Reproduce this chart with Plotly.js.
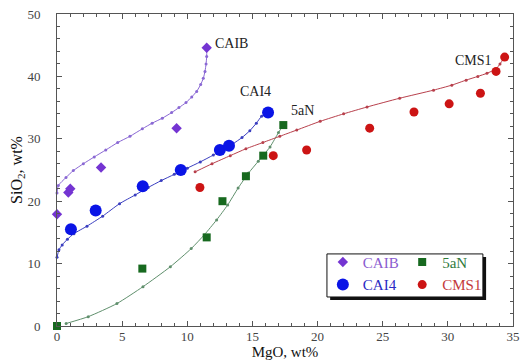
<!DOCTYPE html>
<html>
<head>
<meta charset="utf-8">
<script src="https://cdn.plot.ly/plotly-3.0.1.min.js"></script>
<style>html,body{margin:0;padding:0;background:#fff;}#chart{width:521px;height:360px;}</style>
</head>
<body>
<div id="chart"></div>
<script>
// Measured points
const caibX = [0, 0.87, 1.02, 3.38, 9.18, 11.49];
const caibY = [17.9, 21.4, 22.0, 25.4, 31.7, 44.6];
const cai4X = [1.07, 2.97, 6.58, 9.5, 12.5, 13.2, 16.2];
const cai4Y = [15.5, 18.5, 22.4, 25.0, 28.2, 28.9, 34.2];
const n5aNX = [0, 6.55, 11.49, 12.7, 14.5, 15.83, 17.37];
const n5aNY = [0, 9.2, 14.2, 20.0, 24.0, 27.3, 32.2];
const cms1X = [10.97, 16.6, 19.16, 24.0, 27.4, 30.1, 32.5, 33.7, 34.36];
const cms1Y = [22.2, 27.3, 28.2, 31.7, 34.3, 35.6, 37.3, 40.8, 43.1];

// Fitted curves
const caibCurveX = [0, 0.1, 0.69, 1.25, 2.02, 2.86, 3.74, 4.66, 5.6, 6.55, 7.3, 8.08, 8.8, 9.36, 9.9, 10.34, 10.72, 11.03, 11.23, 11.36, 11.44, 11.49, 11.49];
const caibCurveY = [21.3, 22.5, 23.8, 24.9, 26.0, 27.1, 28.2, 29.4, 30.4, 31.6, 32.5, 33.3, 34.2, 35.0, 35.8, 36.7, 37.6, 38.7, 39.7, 40.8, 42.0, 43.2, 44.6];
const cai4CurveX = [0, 0.15, 0.4, 0.8, 1.3, 2.3, 3.5, 4.8, 6.0, 7.0, 8.0, 9.0, 10.0, 11.0, 12.0, 12.8, 13.5, 14.2, 14.8, 15.3, 15.7, 16.2];
const cai4CurveY = [11.0, 12.2, 13.0, 13.9, 14.8, 16.0, 17.6, 19.6, 21.0, 22.2, 23.3, 24.3, 25.3, 26.3, 27.4, 28.4, 29.2, 30.2, 31.3, 32.5, 33.6, 34.2];
const n5aNCurveX = [0.7, 2.4, 4.6, 6.6, 8.7, 10.3, 11.3, 12.25, 13.1, 13.9, 14.7, 15.45, 16.35, 17.0, 17.37];
const n5aNCurveY = [0.4, 1.5, 3.6, 6.3, 9.5, 12.4, 14.6, 17.0, 19.4, 22.1, 24.5, 26.4, 28.7, 31.0, 32.2];
const cms1CurveX = [10.6, 11.9, 13.3, 14.5, 15.8, 17.1, 18.4, 20.2, 22.0, 23.8, 26.3, 28.9, 30.3, 31.4, 32.3, 33.0, 33.7, 34.0, 34.36];
const cms1CurveY = [24.7, 26.0, 27.3, 28.4, 29.4, 30.4, 31.4, 32.8, 34.0, 35.1, 36.5, 37.8, 38.6, 39.4, 40.0, 40.5, 41.2, 42.0, 43.1];

const labelText = ['CAIB', 'CAI4', '5aN', 'CMS1'];
const labelX = [12.0, 13.9, 17.8, 30.4];
const labelY = [45.3, 37.6, 34.6, 42.6];

const serif = 'Liberation Serif, Times New Roman, serif';

function curve(x, y, color) {
  return {x: x, y: y, type: 'scatter', mode: 'lines+markers', showlegend: false,
    line: {color: color, width: 1, shape: 'spline', smoothing: 0.6},
    marker: {size: 3, color: color}, hoverinfo: 'skip', cliponaxis: false};
}
function pts(x, y, name, symbol, size, color, legend) {
  return {x: x, y: y, type: 'scatter', mode: 'markers', name: name, legend: legend,
    marker: {symbol: symbol, size: size, color: color}, cliponaxis: false};
}

const traces = [
  curve(caibCurveX, caibCurveY, '#8a68d4'),
  curve(cai4CurveX, cai4CurveY, '#3a3ec0'),
  curve(n5aNCurveX, n5aNCurveY, '#5f8f6c'),
  curve(cms1CurveX, cms1CurveY, '#b8404c'),
  pts(caibX, caibY, '<span style="color:#8a5cd0">CAIB</span>', 'diamond', 8, '#7434d2', 'legend'),
  pts(cai4X, cai4Y, '<span style="color:#2a2ac4">CAI4</span>', 'circle', 12, '#0a14e6', 'legend'),
  pts(n5aNX, n5aNY, '<span style="color:#2f7a3c">5aN</span>', 'square', 8, '#17691f', 'legend2'),
  pts(cms1X, cms1Y, '<span style="color:#c43a3a">CMS1</span>', 'circle', 9, '#cc1414', 'legend2')
];

const annotations = labelText.map((t, i) => ({
  x: labelX[i], y: labelY[i], xref: 'x', yref: 'y', text: t, showarrow: false,
  xanchor: 'left', yanchor: 'middle', font: {family: serif, size: 14, color: '#222'}
}));

const axisCommon = {
  showgrid: false, zeroline: false, showline: true, linecolor: '#555', linewidth: 1,
  mirror: 'ticks', ticks: 'inside', ticklen: 5, tickcolor: '#555', tickwidth: 1,
  tickfont: {family: serif, size: 13, color: '#444'}
};

const layout = {
  width: 521, height: 360,
  margin: {l: 57, r: 8, t: 14, b: 34},
  paper_bgcolor: '#fff', plot_bgcolor: '#fff',
  xaxis: Object.assign({}, axisCommon, {
    range: [0, 35], dtick: 5, tick0: 0, automargin: false, ticklabelstandoff: -2,
    minor: {dtick: 1, ticks: 'inside', ticklen: 3, tickcolor: '#555'},
    title: {text: 'MgO, wt%', font: {family: serif, size: 15, color: '#111'}, standoff: 4}
  }),
  yaxis: Object.assign({}, axisCommon, {
    range: [0, 50], dtick: 10, tick0: 0, ticklabelstandoff: 13, automargin: false,
    minor: {dtick: 2, ticks: 'inside', ticklen: 3, tickcolor: '#555'},
    title: {text: 'SiO<sub>2</sub>, wt%', font: {family: serif, size: 16, color: '#111'}, standoff: 0}
  }),
  legend: {x: 0.583, y: 0.257, xanchor: 'left', yanchor: 'top', bgcolor: 'rgba(0,0,0,0)',
    borderwidth: 0, font: {family: serif, size: 15}, tracegroupgap: 0},
  legend2: {x: 0.757, y: 0.257, xanchor: 'left', yanchor: 'top', bgcolor: 'rgba(0,0,0,0)',
    borderwidth: 0, font: {family: serif, size: 15}, tracegroupgap: 0},
  shapes: [
    {type: 'rect', xref: 'paper', yref: 'paper', x0: 0.599, x1: 0.941, y0: 0.083, y1: 0.221,
      fillcolor: '#111', line: {width: 0}, layer: 'above'},
    {type: 'rect', xref: 'paper', yref: 'paper', x0: 0.592, x1: 0.934, y0: 0.093, y1: 0.231,
      fillcolor: '#fff', line: {width: 1, color: '#111'}, layer: 'above'}
  ],
  annotations: annotations
};

Plotly.newPlot('chart', traces, layout, {displayModeBar: false, staticPlot: true});
</script>
</body>
</html>
